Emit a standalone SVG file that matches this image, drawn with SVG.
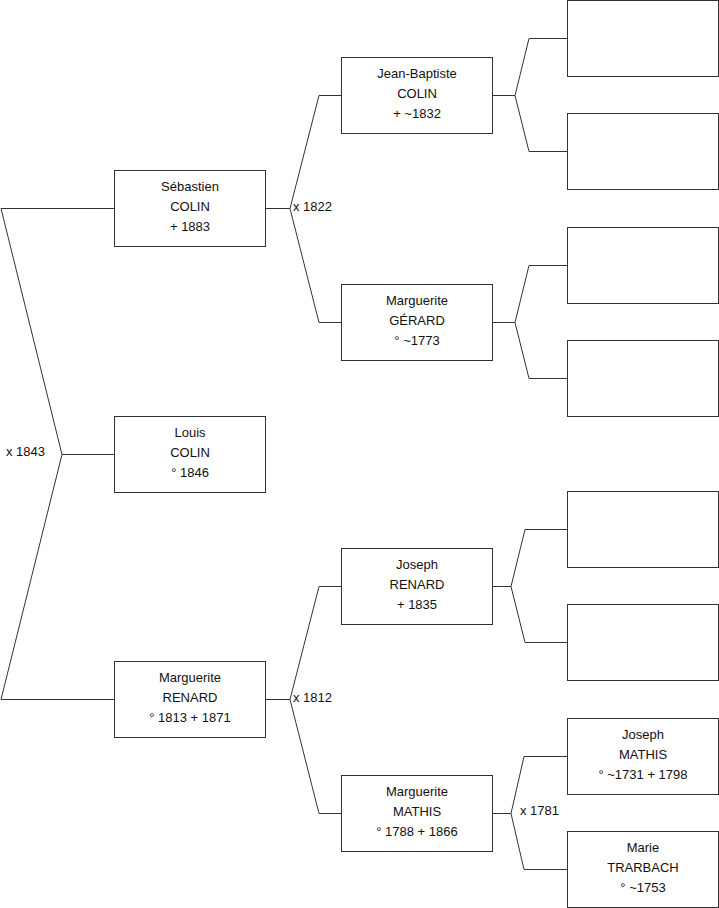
<svg xmlns="http://www.w3.org/2000/svg" width="719" height="908" viewBox="0 0 719 908">
<style>
.box{fill:#fff;stroke:#333;stroke-width:1}
.c{fill:none;stroke:#333;stroke-width:1}
text{font-family:"Liberation Sans",Arial,sans-serif;font-size:13px;fill:#111}
.n text{text-anchor:middle}
</style>
<rect width="719" height="908" fill="#fff"/>
<g id="connectors">
<path class="c" d="M114,454.5H62M62,454.5L1,208.5H114M62,454.5L1,699.5H114"/>
<path class="c" d="M265,208.5H290M290,208.5L319,95.5H341M290,208.5L319,322.5H341"/>
<path class="c" d="M265,699.5H290M290,699.5L319,586.5H341M290,699.5L319,813.5H341"/>
<path class="c" d="M492,95.5H515M515,95.5L529,38.5H567M515,95.5L529,151.5H567"/>
<path class="c" d="M492,322.5H515M515,322.5L529,265.5H567M515,322.5L529,378.5H567"/>
<path class="c" d="M492,586.5H511M511,586.5L525,529.5H567M511,586.5L525,642.5H567"/>
<path class="c" d="M492,813.5H511M511,813.5L524,756.5H567M511,813.5L524,869.5H567"/>
<text x="6" y="455.5">x 1843</text>
<text x="293" y="211">x 1822</text>
<text x="293" y="702">x 1812</text>
<text x="520" y="815">x 1781</text>
</g>
<g id="sebastien" class="n"><rect class="box" x="114.5" y="170.5" width="151" height="76"/>
<text x="190" y="190.5">Sébastien</text><text x="190" y="210.5">COLIN</text><text x="190" y="230.5">+ 1883</text></g>
<g id="louis" class="n"><rect class="box" x="114.5" y="416.5" width="151" height="76"/>
<text x="190" y="436.5">Louis</text><text x="190" y="456.5">COLIN</text><text x="190" y="476.5">° 1846</text></g>
<g id="marguerite-renard" class="n"><rect class="box" x="114.5" y="661.5" width="151" height="76"/>
<text x="190" y="681.5">Marguerite</text><text x="190" y="701.5">RENARD</text><text x="190" y="721.5">° 1813 + 1871</text></g>
<g id="jean-baptiste" class="n"><rect class="box" x="341.5" y="57.5" width="151" height="76"/>
<text x="417" y="77.5">Jean-Baptiste</text><text x="417" y="97.5">COLIN</text><text x="417" y="117.5">+ ~1832</text></g>
<g id="marguerite-gerard" class="n"><rect class="box" x="341.5" y="284.5" width="151" height="76"/>
<text x="417" y="304.5">Marguerite</text><text x="417" y="324.5">GÉRARD</text><text x="417" y="344.5">° ~1773</text></g>
<g id="joseph-renard" class="n"><rect class="box" x="341.5" y="548.5" width="151" height="76"/>
<text x="417" y="568.5">Joseph</text><text x="417" y="588.5">RENARD</text><text x="417" y="608.5">+ 1835</text></g>
<g id="marguerite-mathis" class="n"><rect class="box" x="341.5" y="775.5" width="151" height="76"/>
<text x="417" y="795.5">Marguerite</text><text x="417" y="815.5">MATHIS</text><text x="417" y="835.5">° 1788 + 1866</text></g>
<g id="empty1"><rect class="box" x="567.5" y="0.5" width="151" height="76"/></g>
<g id="empty2"><rect class="box" x="567.5" y="113.5" width="151" height="76"/></g>
<g id="empty3"><rect class="box" x="567.5" y="227.5" width="151" height="76"/></g>
<g id="empty4"><rect class="box" x="567.5" y="340.5" width="151" height="76"/></g>
<g id="empty5"><rect class="box" x="567.5" y="491.5" width="151" height="76"/></g>
<g id="empty6"><rect class="box" x="567.5" y="604.5" width="151" height="76"/></g>
<g id="joseph-mathis" class="n"><rect class="box" x="567.5" y="718.5" width="151" height="76"/>
<text x="643" y="738.5">Joseph</text><text x="643" y="758.5">MATHIS</text><text x="643" y="778.5">° ~1731 + 1798</text></g>
<g id="marie-trarbach" class="n"><rect class="box" x="567.5" y="831.5" width="151" height="76"/>
<text x="643" y="851.5">Marie</text><text x="643" y="871.5">TRARBACH</text><text x="643" y="891.5">° ~1753</text></g>
</svg>
